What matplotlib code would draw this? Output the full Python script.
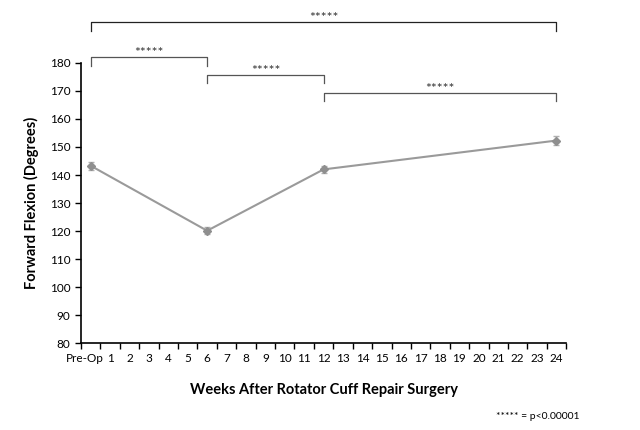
import numpy as np
import matplotlib.pyplot as plt
import matplotlib.transforms as mtransforms

plt.switch_backend('Agg')
plt.rcParams['font.family'] = ['Lato', 'DejaVu Sans']

# === Data ===
week_labels = ['Pre-Op'] + [str(i) for i in range(1, 25)]
weeks = [0, 6, 12, 24]
flexion = [143.3, 120.1, 142.0, 152.3]
flexion_err = [1.5, 1.2, 1.2, 1.5]

# significance brackets: (start week, end week, bracket height)
brackets = [(0, 24, 194.6), (0, 6, 182.1), (6, 12, 175.7), (12, 24, 169.3)]
sig_text = '*****'

fig = plt.figure(figsize=(6.4, 4.3), dpi=100)
ax = fig.add_axes([0.1266, 0.2023, 0.758, 0.6512])

ax.errorbar(weeks, flexion, yerr=flexion_err, color='#9a9a9a', lw=1.5,
            marker='D', ms=4, mfc='#8f8f8f', mec='#8f8f8f',
            ecolor='#b0b0b0', elinewidth=1, capsize=2.5, capthick=1)

ax.set_xlim(-0.5, 24.5)
ax.set_ylim(80, 180)
ax.set_yticks(np.arange(80, 181, 10))
ax.set_xticks(range(len(week_labels)))
ax.set_xticklabels(week_labels)
ax.set_xticks(np.arange(-0.5, 25, 1), minor=True)
ax.tick_params(axis='x', which='major', length=0, labelsize=8.5, pad=7)
ax.tick_params(axis='x', which='minor', length=4, width=1, direction='out')
ax.tick_params(axis='y', length=4, width=1, direction='out', labelsize=8.5)

# nudge "Pre-Op" left so it doesn't touch "1"
pre = ax.get_xticklabels()[0]
pre.set_transform(pre.get_transform() + mtransforms.ScaledTranslation(-4 / 72, 0, fig.dpi_scale_trans))

for s in ['top', 'right']:
    ax.spines[s].set_visible(False)
for s in ['left', 'bottom']:
    ax.spines[s].set_linewidth(1.2)

ax.set_ylabel('Forward Flexion (Degrees)', fontsize=10.5, fontweight='bold', labelpad=8)
ax.set_xlabel('Weeks After Rotator Cuff Repair Surgery', fontsize=10.5, fontweight='bold', labelpad=14)

# brackets
for i, (a, b, h) in enumerate(brackets):
    col = '#222222' if i == 0 else '#555555'
    ax.plot([a, a, b, b], [h - 3.0, h, h, h - 3.0], color=col, lw=0.9, clip_on=False)
    ax.text((a + b) / 2, h - 0.6, sig_text, ha='center', va='bottom', fontsize=10,
            color='#333333', clip_on=False)

fig.text(0.905, 0.022, '***** = p<0.00001', ha='right', va='bottom', fontsize=7.5)

fig.savefig('out.png', dpi=100)
